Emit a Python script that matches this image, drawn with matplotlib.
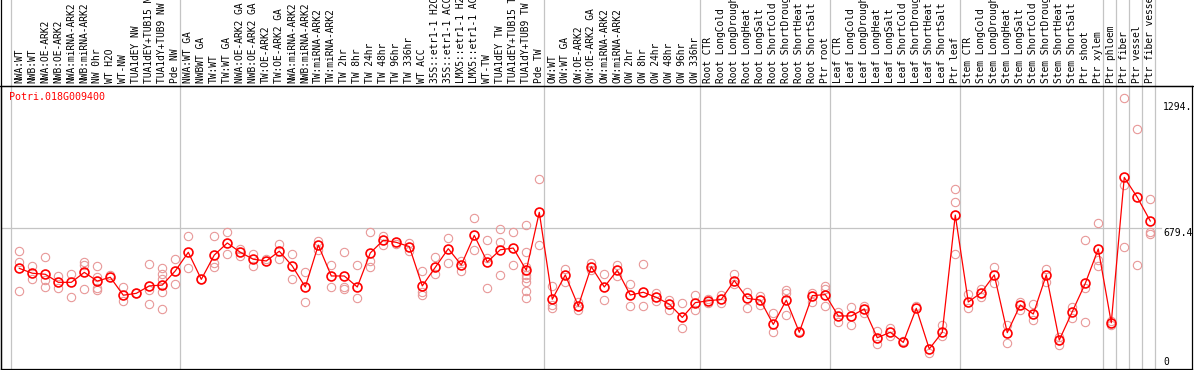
import numpy as np
import matplotlib
matplotlib.use("Agg")
import matplotlib.pyplot as plt
import matplotlib.transforms as mtransforms

GENE = "Potri.018G009400"

SAMPLES = [
    "NWA:WT", "NWB:WT", "NWA:OE-ARK2", "NWB:OE-ARK2", "NWA:miRNA-ARK2",
    "NWB:miRNA-ARK2", "NW 0hr", "WT H2O", "WT-NW", "TUA1dEY NW",
    "TUA1dEY+TUB15 NW", "TUA1dY+TUB9 NW", "Pde NW",
    "NWA:WT GA", "NWBWT GA", "TW:WT", "TW:WT GA", "NWA:OE-ARK2 GA",
    "NWB:OE-ARK2 GA", "TW:OE-ARK2", "TW:OE-ARK2 GA", "NWA:miRNA-ARK2",
    "NWB:miRNA-ARK2", "TW:miRNA-ARK2", "TW:miRNA-ARK2", "TW 2hr", "TW 8hr",
    "TW 24hr", "TW 48hr", "TW 96hr", "TW 336hr", "WT ACC",
    "35S::etr1-1 H2O", "35S::etr1-1 ACC", "LMX5::etr1-1 H2O",
    "LMX5::etr1-1 ACC", "WT-TW", "TUA1dEY TW", "TUA1dEY+TUB15 TW",
    "TUA1dY+TUB9 TW", "Pde TW",
    "OW:WT", "OW:WT GA", "OW:OE-ARK2", "OW:OE-ARK2 GA", "OW:miRNA-ARK2",
    "OW:miRNA-ARK2", "OW 2hr", "OW 8hr", "OW 24hr", "OW 48hr", "OW 96hr",
    "OW 336hr",
    "Root CTR", "Root LongCold", "Root LongDrought", "Root LongHeat",
    "Root LongSalt", "Root ShortCold", "Root ShortDrought", "Root ShortHeat",
    "Root ShortSalt", "Ptr root",
    "Leaf CTR", "Leaf LongCold", "Leaf LongDrought", "Leaf LongHeat",
    "Leaf LongSalt", "Leaf ShortCold", "Leaf ShortDrought", "Leaf ShortHeat",
    "Leaf ShortSalt", "Ptr leaf",
    "Stem CTR", "Stem LongCold", "Stem LongDrought", "Stem LongHeat",
    "Stem LongSalt", "Stem ShortCold", "Stem ShortDrought", "Stem ShortHeat",
    "Stem ShortSalt", "Ptr shoot", "Ptr xylem",
    "Ptr phloem", "Ptr fiber", "Ptr vessel", "Ptr fiber vessel",
]

# index of the first sample of each group (grey separators)
GROUP_STARTS = [0, 13, 41, 53, 63, 73, 84, 85, 86, 87, 88]

MEANS = [
    490, 467, 462, 424, 424, 471, 430, 448, 363, 372,
    407, 411, 478, 566, 438, 553, 610, 566, 533, 525,
    571, 501, 402, 600, 454, 454, 402, 563, 623, 613,
    593, 407, 495, 583, 506, 646, 520, 578, 586, 481,
    755, 344, 459, 312, 498, 402, 481, 364, 377, 353,
    321, 258, 328, 337, 343, 432, 348, 340, 225, 340,
    188, 361, 366, 265, 265, 298, 162, 188, 140, 301,
    109, 188, 742, 331, 375, 459, 186, 317, 274, 459,
    151, 285, 419, 582, 233, 920, 826, 714,
]

REPLICATES = [
    [571, 519, 383], [503, 440], [544, 435, 403], [454, 397], [463, 353],
    [522, 506, 391], [501, 451, 399, 388], [459], [400, 337], [375],
    [511, 388, 320], [492, 463, 440, 377, 298], [533, 415], [643, 490], [438],
    [643, 514, 495], [660, 558], [583, 550], [558, 503], [534],
    [605, 533], [558, 438], [473, 331], [619, 577], [506, 400],
    [566, 403, 391], [506, 348], [660, 526, 498], [643, 600], [605],
    [608, 572], [476, 380, 364], [544, 463], [632, 514], [526, 476],
    [727, 577], [623, 538, 396], [676, 613, 457], [660, 506],
    [695, 569, 498, 459, 443, 427, 383, 348],
    [913, 600], [407, 317, 301], [486, 427], [333, 293], [517, 482],
    [463, 340], [506, 454], [416, 312], [511, 312], [372, 337],
    [340, 293], [325, 210], [364, 293], [343, 328], [364, 325],
    [463, 416], [378, 301], [359, 317], [281, 191], [388, 375, 270],
    [195], [372, 333], [407, 392, 312], [285, 235], [309, 221],
    [312, 281], [195, 131], [210, 170], [148], [312],
    [88], [222, 170], [864, 805, 556], [369, 301], [391, 356],
    [495, 419], [222, 139], [333, 293], [320, 246], [486, 427],
    [167, 128], [309, 254], [624, 396, 235], [703, 530, 503], [241, 222],
    [1294, 884, 590], [1147, 506], [817, 663, 652],
]

MID_VALUE = 679.4
AXIS_LABELS = ["1294.", "679.4", "0"]

W, H = 1194, 370
FONT = "DejaVu Sans Mono"

fig = plt.figure(figsize=(W / 100, H / 100), dpi=100)
ax = fig.add_axes([1 / W, 1 / H, 1191 / W, 283 / H])

x = np.arange(len(MEANS))
ax.set_xlim(-1.408, 90.21)
ax.set_ylim(14.2, 1352.2)

# grey group separators, running through the label band as well
for k in GROUP_STARTS:
    ax.axvline(k - 0.638, ymin=0, ymax=1.31, color="#c4c4c4", lw=0.9,
               clip_on=False, zorder=1)
ax.axhline(MID_VALUE, xmin=0, xmax=0.974, color="#c4c4c4", lw=0.9, zorder=1)

rx = np.concatenate([[i] * len(r) for i, r in enumerate(REPLICATES)])
ry = np.concatenate([np.array(r, dtype=float) for r in REPLICATES])
ax.plot(rx, ry, "o", ms=6.0, mfc="none", mec="#e89898", mew=0.8, zorder=2)

ax.plot(x, MEANS, "-", color="red", lw=0.9, zorder=3)
ax.plot(x, MEANS, "o", ms=6.4, mfc="none", mec="red", mew=1.2, zorder=4)

ax.set_xticks([])
ax.set_yticks([])
for s in ax.spines.values():
    s.set_color("black")
    s.set_linewidth(0.9)

# left border continues up through the label band
fig.add_artist(plt.Line2D([1 / W, 1 / W], [0, 1], color="black", lw=0.9))
fig.add_artist(plt.Line2D([0, 1], [1 - 86 / H, 1 - 86 / H], color="black",
                          lw=0.9))

trans = mtransforms.blended_transform_factory(ax.transData, fig.transFigure)
for i, lab in enumerate(SAMPLES):
    ax.text(i, 1 - 83 / H, lab, rotation=90, ha="center", va="bottom",
            fontsize=6.9, family=FONT, transform=trans, clip_on=False)

fig.text(9.3 / W, 1 - 96.7 / H, GENE, color="red", fontsize=7.2,
         family=FONT, ha="left", va="center")

for lab, ypx in zip(AXIS_LABELS, [107.3, 232.7, 361.7]):
    fig.text(1163 / W, 1 - ypx / H, lab, fontsize=7.0, family=FONT,
             ha="left", va="center")

fig.savefig("out.png", dpi=100)
